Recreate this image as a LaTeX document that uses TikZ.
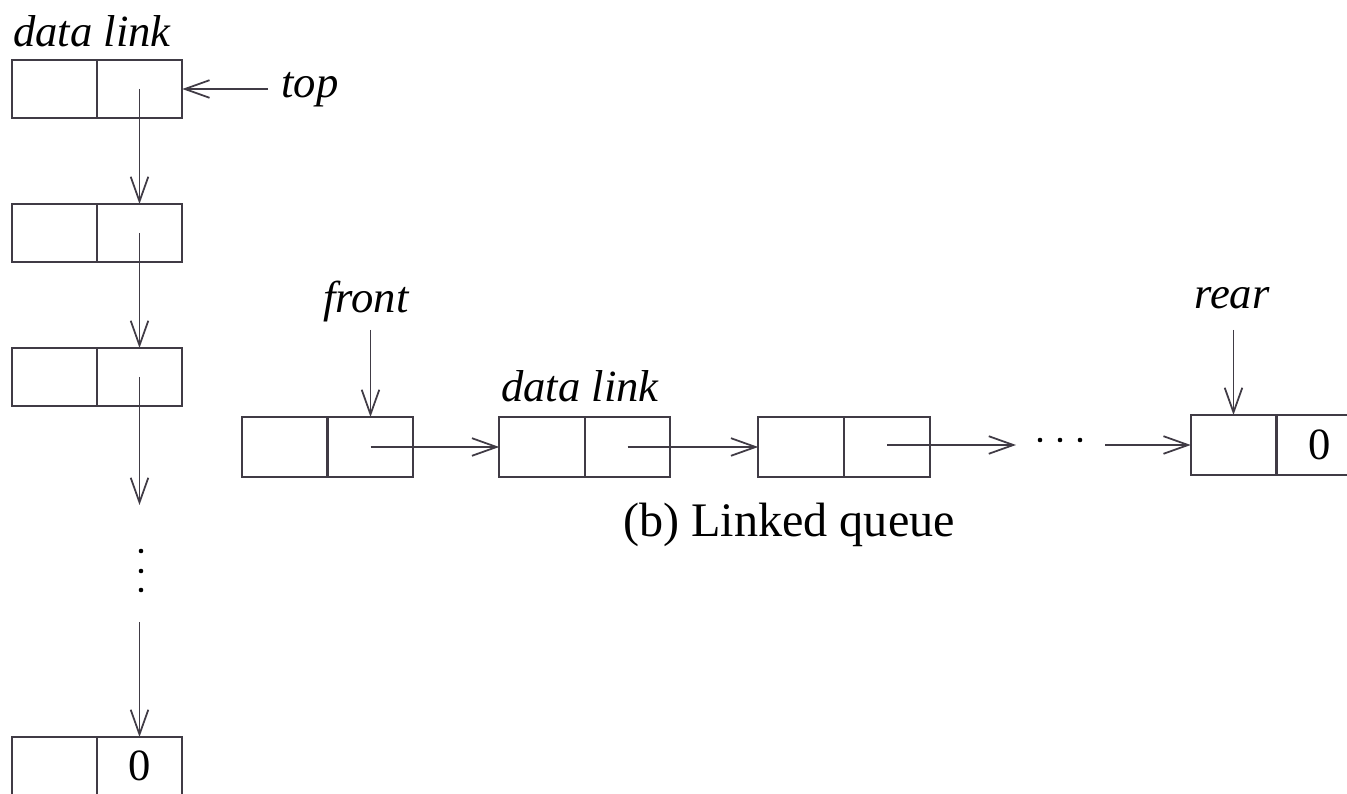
\documentclass[tikz,border=0pt]{standalone}
\usepackage{fontspec}
\setmainfont{Liberation Serif}
\usetikzlibrary{arrows.meta}
\definecolor{ink}{rgb}{0.25,0.23,0.27}
\begin{document}
\begin{tikzpicture}[x=0.01cm,y=-0.01cm,
  cell/.style={draw=ink, line width=0.5pt, minimum width=0.855cm, minimum height=0.58cm,
               inner sep=0pt, outer sep=0pt},
  qcell/.style={cell, minimum height=0.6cm},
  ptr/.style={draw=ink, line width=0.5pt, -{Straight Barb[length=7pt,width=5pt,line width=0.5pt]}},
  lbl/.style={font=\fontsize{12.7}{15}\selectfont\itshape, inner sep=0pt},
  captext/.style={font=\fontsize{13.7}{16}\selectfont, inner sep=0pt},
  val/.style={font=\fontsize{12.7}{15}\selectfont},
  dot/.style={fill=black, draw=none}]
\useasboundingbox (0,0) rectangle (1347,794);

% ---- linked stack ----
\node[lbl] (stackhead) at (92,31) {data link};
\node[cell] (s1d) at (54.5,89) {};
\node[cell] (s1l) at (139.5,89) {};
\node[cell] (s2d) at (54.5,233) {};
\node[cell] (s2l) at (139.5,233) {};
\node[cell] (s3d) at (54.5,377) {};
\node[cell] (s3l) at (139.5,377) {};
\node[cell] (s4d) at (54.5,766) {};
\node[cell, val] (s4l) at (139.5,766) {0};

\node[lbl] (top) at (310,90) {top};
\coordinate (topstart) at (268,89);
\draw[ptr] (topstart) -- (s1l.east);

\draw[ptr] (s1l.center) -- (s2l.north);
\draw[ptr] (s2l.center) -- (s3l.north);
\coordinate (s3end) at (139.5,505);
\draw[ptr] (s3l.center) -- (s3end);
\foreach \yy in {551,571,590} \fill[dot] (141,\yy) circle (2.3);
\coordinate (s4start) at (139.5,622);
\draw[ptr] (s4start) -- (s4l.north);

% ---- linked queue ----
\node[lbl] (qhead) at (580,386) {data link};
\node[qcell] (qAd) at (284.5,447) {};
\node[qcell] (qAl) at (370.5,447) {};
\node[qcell] (qBd) at (542,447) {};
\node[qcell] (qBl) at (627.5,447) {};
\node[qcell] (qCd) at (801,447) {};
\node[qcell] (qCl) at (887,447) {};
\node[qcell] (qDd) at (1233.5,445) {};
\node[qcell, val] (qDl) at (1320,445) {0};

\draw[ptr] (qAl.center) -- (qBd.west);
\draw[ptr] (qBl.center) -- (qCd.west);
\coordinate (qCend) at (1016,445);
\draw[ptr] (qCl.center |- qCend) -- (qCend);
\foreach \xx in {1040,1060,1080} \fill[dot] (\xx,440) circle (2.3);
\coordinate (qDstart) at (1105,445);
\draw[ptr] (qDstart) -- (qDd.west);

\node[lbl] (front) at (366,302) {front};
\coordinate (fstart) at (370.5,330);
\draw[ptr] (fstart) -- (qAl.north);

\node[lbl] (rear) at (1232,298) {rear};
\coordinate (rstart) at (1233.5,330);
\draw[ptr] (rstart) -- (qDd.north);

\node[captext] (caption) at (789,525) {(b) Linked queue};
\end{tikzpicture}
\end{document}
